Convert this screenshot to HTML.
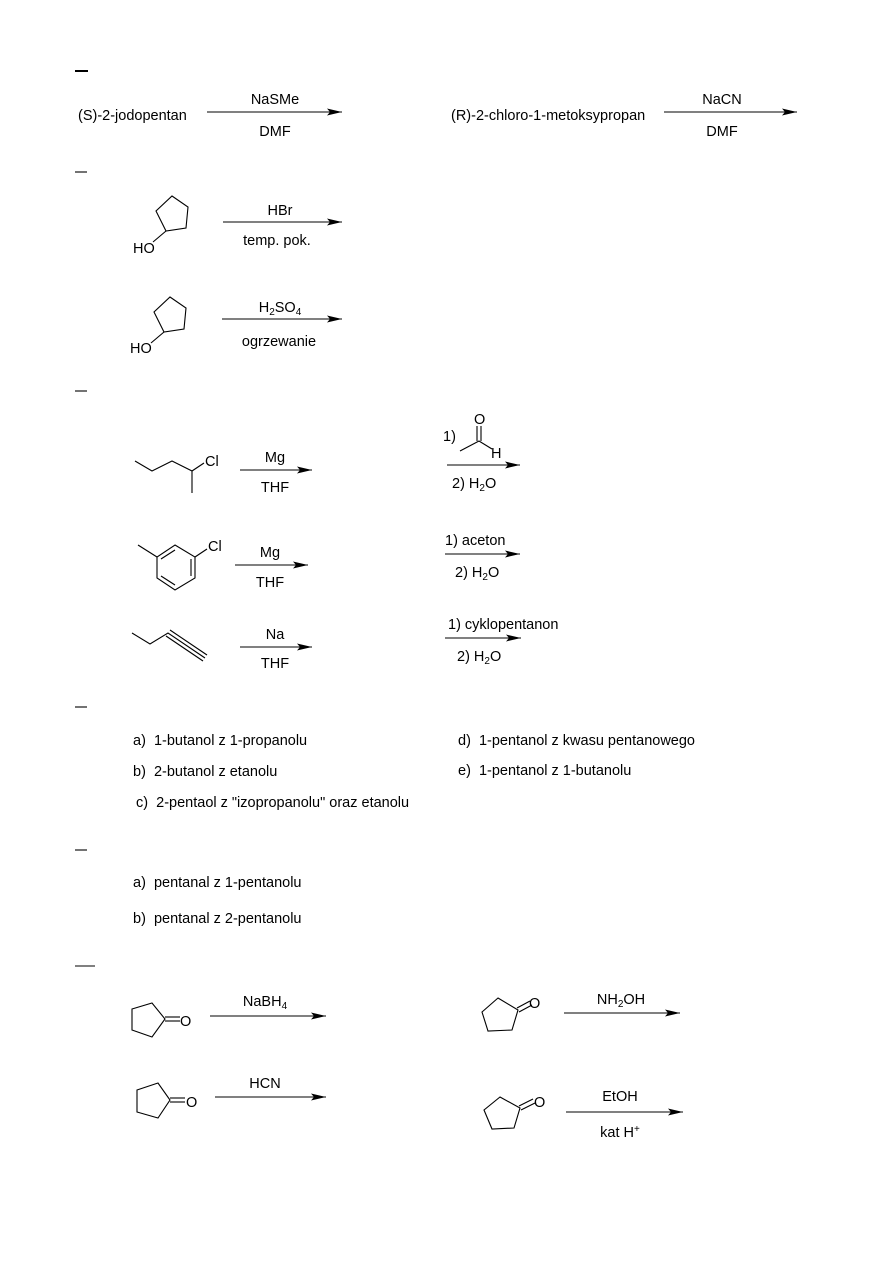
<!DOCTYPE html>
<html><head><meta charset="utf-8"><style>
html,body{margin:0;padding:0;background:#fff}
svg{display:block}
text{font-family:"Liberation Sans",Arial,sans-serif;font-size:14.5px;fill:#000}
.sub{font-size:10px}
</style></head><body>
<svg width="893" height="1263" viewBox="0 0 893 1263" xmlns="http://www.w3.org/2000/svg">
<defs>
<marker id="ah" markerWidth="15" markerHeight="8" refX="15" refY="4" orient="auto" markerUnits="userSpaceOnUse">
<path d="M0,0.5 L15,4 L0,7.5 L3,4 Z" fill="#000"/>
</marker>
</defs>
<g stroke="#000" stroke-width="1.1" fill="none">
<line x1="75" y1="71" x2="88" y2="71" stroke-width="2"/>
<line x1="75" y1="172" x2="87" y2="172"/>
<line x1="75" y1="391" x2="87" y2="391"/>
<line x1="75" y1="707" x2="87" y2="707"/>
<line x1="75" y1="850" x2="87" y2="850"/>
<line x1="75" y1="966" x2="95" y2="966"/>
<line x1="207" y1="112" x2="342" y2="112" marker-end="url(#ah)"/>
<line x1="664" y1="112" x2="797" y2="112" marker-end="url(#ah)"/>
<line x1="223" y1="222" x2="342" y2="222" marker-end="url(#ah)"/>
<line x1="222" y1="319" x2="342" y2="319" marker-end="url(#ah)"/>
<line x1="240" y1="470" x2="312" y2="470" marker-end="url(#ah)"/>
<line x1="447" y1="465" x2="520" y2="465" marker-end="url(#ah)"/>
<line x1="235" y1="565" x2="308" y2="565" marker-end="url(#ah)"/>
<line x1="445" y1="554" x2="520" y2="554" marker-end="url(#ah)"/>
<line x1="240" y1="647" x2="312" y2="647" marker-end="url(#ah)"/>
<line x1="445" y1="638" x2="521" y2="638" marker-end="url(#ah)"/>
<line x1="210" y1="1016" x2="326" y2="1016" marker-end="url(#ah)"/>
<line x1="215" y1="1097" x2="326" y2="1097" marker-end="url(#ah)"/>
<line x1="564" y1="1013" x2="680" y2="1013" marker-end="url(#ah)"/>
<line x1="566" y1="1112" x2="683" y2="1112" marker-end="url(#ah)"/>
<polygon points="172,196 188,207 186,228 166,231 156,211"/>
<line x1="166" y1="231" x2="153" y2="242"/>
<polygon points="170,297 186,308 184,329 164,332 154,312"/>
<line x1="164" y1="332" x2="151" y2="343"/>
<polyline points="135,461 152,471 172,461 192,471 192,493"/>
<line x1="192" y1="471" x2="204" y2="463"/>
<line x1="477" y1="426" x2="477" y2="441"/>
<line x1="481" y1="426" x2="481" y2="441"/>
<polyline points="460,451 479,441 492,449"/>
<polygon points="175,545 195,557 195,578 175,590 157,578 157,557"/>
<line x1="191" y1="559" x2="191" y2="576"/>
<line x1="161" y1="576" x2="175" y2="585"/>
<line x1="161" y1="559" x2="175" y2="550"/>
<line x1="157" y1="557" x2="138" y2="545"/>
<line x1="195" y1="557" x2="207" y2="549"/>
<polyline points="132,633 150,644 168,633 205,658"/>
<line x1="170" y1="630" x2="207" y2="655"/>
<line x1="166" y1="636" x2="203" y2="661"/>
<polygon points="132,1009 152,1003 165,1019 152,1037 132,1030"/>
<line x1="165" y1="1017" x2="180" y2="1017"/>
<line x1="165" y1="1021" x2="180" y2="1021"/>
<polygon points="137,1090 158,1083 170,1100 158,1118 137,1112"/>
<line x1="170" y1="1098" x2="185" y2="1098"/>
<line x1="170" y1="1102" x2="185" y2="1102"/>
<polygon points="498,998 518,1010 512,1030 488,1031 482,1012"/>
<line x1="517" y1="1008" x2="530" y2="1001"/>
<line x1="519" y1="1012" x2="532" y2="1005"/>
<polygon points="500,1097 520,1108 514,1128 492,1129 484,1110"/>
<line x1="519" y1="1106" x2="533" y2="1099"/>
<line x1="521" y1="1110" x2="535" y2="1103"/>
</g>
<text x="78" y="120">(S)-2-jodopentan</text>
<text x="275" y="104" text-anchor="middle">NaSMe</text>
<text x="275" y="136" text-anchor="middle">DMF</text>
<text x="451" y="120">(R)-2-chloro-1-metoksypropan</text>
<text x="722" y="104" text-anchor="middle">NaCN</text>
<text x="722" y="136" text-anchor="middle">DMF</text>

<text x="133" y="253">HO</text>
<text x="280" y="215" text-anchor="middle">HBr</text>
<text x="277" y="245" text-anchor="middle">temp. pok.</text>
<text x="130" y="353">HO</text>
<text x="280" y="312" text-anchor="middle">H<tspan class="sub" dy="3">2</tspan><tspan dy="-3">SO</tspan><tspan class="sub" dy="3">4</tspan></text>
<text x="279" y="346" text-anchor="middle">ogrzewanie</text>

<text x="205" y="466">Cl</text>
<text x="275" y="462" text-anchor="middle">Mg</text>
<text x="275" y="492" text-anchor="middle">THF</text>
<text x="474" y="424">O</text>
<text x="491" y="458">H</text>
<text x="443" y="441">1)</text>
<text x="452" y="488">2) H<tspan class="sub" dy="3">2</tspan><tspan dy="-3">O</tspan></text>

<text x="208" y="551">Cl</text>
<text x="270" y="557" text-anchor="middle">Mg</text>
<text x="270" y="587" text-anchor="middle">THF</text>
<text x="445" y="545">1) aceton</text>
<text x="455" y="577">2) H<tspan class="sub" dy="3">2</tspan><tspan dy="-3">O</tspan></text>

<text x="275" y="639" text-anchor="middle">Na</text>
<text x="275" y="668" text-anchor="middle">THF</text>
<text x="448" y="629">1) cyklopentanon</text>
<text x="457" y="661">2) H<tspan class="sub" dy="3">2</tspan><tspan dy="-3">O</tspan></text>

<text x="133" y="745" xml:space="preserve">a)  1-butanol z 1-propanolu</text>
<text x="133" y="776" xml:space="preserve">b)  2-butanol z etanolu</text>
<text x="136" y="807" xml:space="preserve">c)  2-pentaol z "izopropanolu" oraz etanolu</text>
<text x="458" y="745" xml:space="preserve">d)  1-pentanol z kwasu pentanowego</text>
<text x="458" y="775" xml:space="preserve">e)  1-pentanol z 1-butanolu</text>

<text x="133" y="887" xml:space="preserve">a)  pentanal z 1-pentanolu</text>
<text x="133" y="923" xml:space="preserve">b)  pentanal z 2-pentanolu</text>

<text x="180" y="1026">O</text>
<text x="265" y="1006" text-anchor="middle">NaBH<tspan class="sub" dy="3">4</tspan></text>
<text x="186" y="1107">O</text>
<text x="265" y="1088" text-anchor="middle">HCN</text>
<text x="529" y="1008">O</text>
<text x="621" y="1004" text-anchor="middle">NH<tspan class="sub" dy="3">2</tspan><tspan dy="-3">OH</tspan></text>
<text x="534" y="1107">O</text>
<text x="620" y="1101" text-anchor="middle">EtOH</text>
<text x="620" y="1137" text-anchor="middle">kat H<tspan class="sub" dy="-5">+</tspan></text>
</svg>
</body></html>
